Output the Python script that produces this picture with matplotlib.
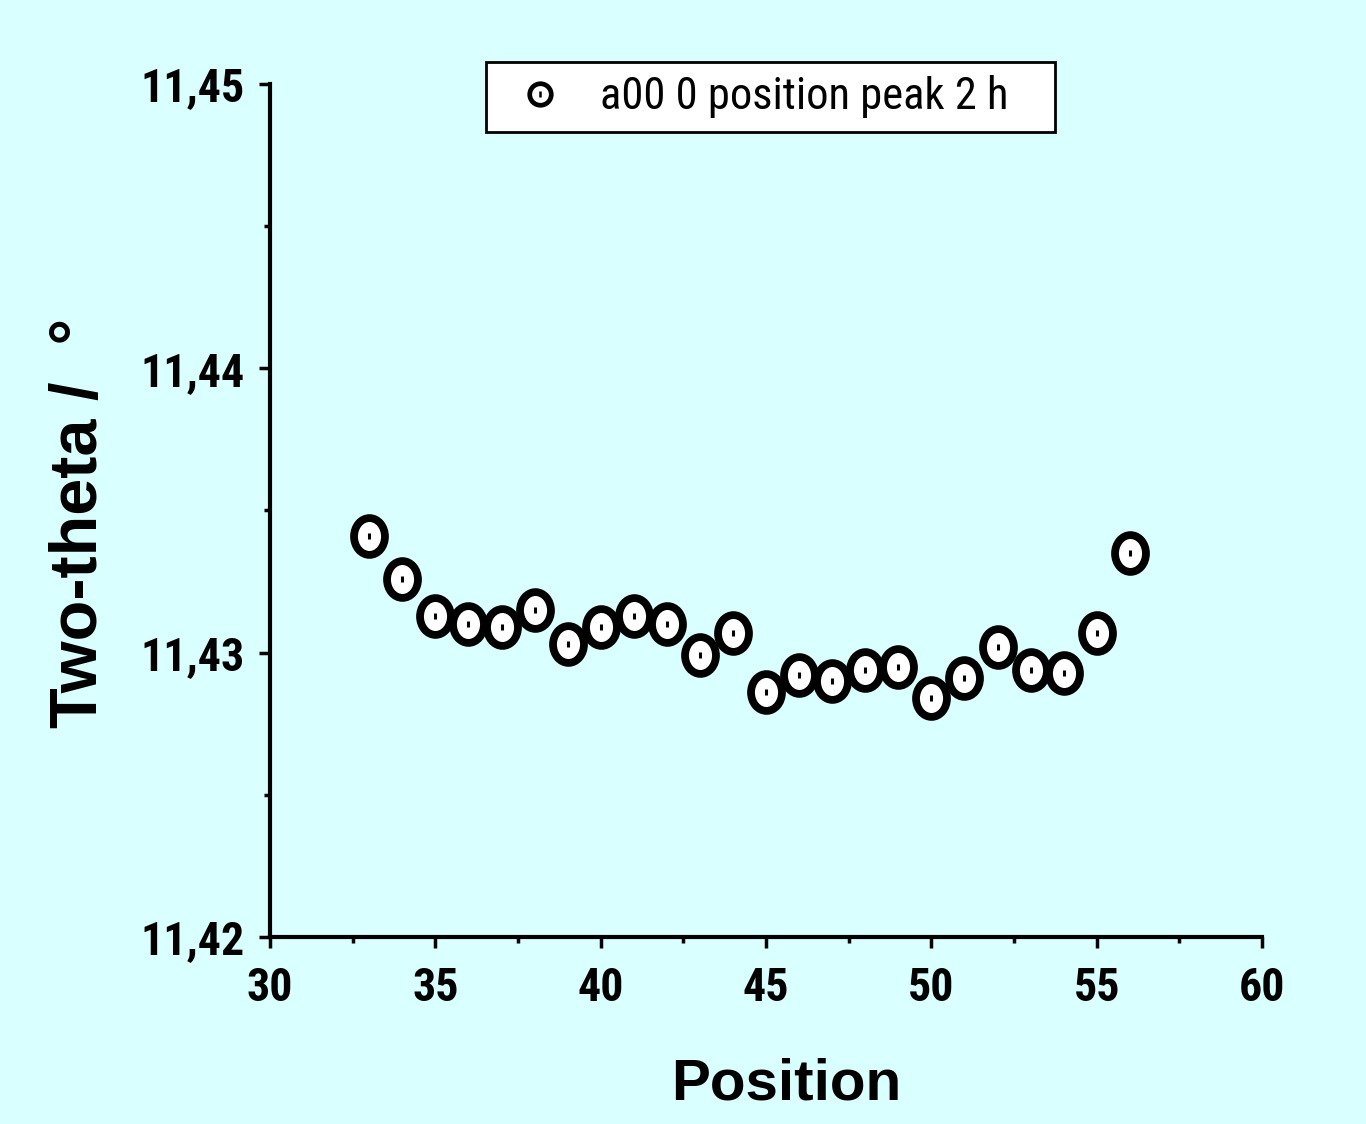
import numpy as np
import matplotlib.pyplot as plt
from matplotlib import font_manager
from matplotlib.path import Path
from matplotlib.patches import Rectangle
from matplotlib.transforms import Affine2D
from matplotlib.ticker import MultipleLocator, FuncFormatter
from matplotlib.lines import Line2D
from matplotlib.legend_handler import HandlerTuple

position = [33, 34, 35, 36, 37, 38, 39, 40, 41, 42, 43, 44,
            45, 46, 47, 48, 49, 50, 51, 52, 53, 54, 55, 56]
two_theta = [11.4341, 11.4326, 11.4313, 11.4310, 11.4309, 11.4315,
             11.4303, 11.4309, 11.4313, 11.4310, 11.4299, 11.4307,
             11.4286, 11.4292, 11.4290, 11.4294, 11.4295, 11.4284,
             11.4291, 11.4302, 11.4294, 11.4293, 11.4307, 11.4335]
series_label = 'a00 0 position peak 2 h'

def pick_font(candidates, weight):
   have = {}
   for f in font_manager.fontManager.ttflist:
      have.setdefault(f.name, set()).add(f.weight)
   for name in candidates:
      if name in have and any(abs(int(w) - weight) <= 100 for w in have[name] if str(w).isdigit()):
         return name
   return 'Liberation Sans'

narrow_list = ['Liberation Sans Narrow', 'Arial Narrow', 'Roboto Condensed',
               'PT Sans Narrow', 'Archivo Narrow', 'Barlow Semi Condensed']
narrow_bold = pick_font(narrow_list, 700)
narrow_reg = pick_font(narrow_list, 400)
wide = 'Liberation Sans'

bg = '#D9FFFF'
fig = plt.figure(figsize=(13.66, 11.24), dpi=100, facecolor=bg)
ax = fig.add_axes([0.1977, 0.1664, 0.7262, 0.7589], facecolor=bg)

# slightly tall ellipse like the original symbol
ellipse = Affine2D().scale(1.0, 1.19).transform_path(Path.unit_circle())

ax.plot(position, two_theta, linestyle='none', marker=ellipse, markersize=26.5,
        markerfacecolor='white', markeredgecolor='black', markeredgewidth=5.6,
        clip_on=False, zorder=3)
ax.plot(position, two_theta, linestyle='none', marker='|', markersize=5,
        markeredgecolor='black', markeredgewidth=2.2, clip_on=False, zorder=4)

ax.set_xlim(30, 60)
ax.set_ylim(11.42, 11.45)
ax.xaxis.set_major_locator(MultipleLocator(5))
ax.xaxis.set_minor_locator(MultipleLocator(2.5))
ax.yaxis.set_major_locator(MultipleLocator(0.01))
ax.yaxis.set_minor_locator(MultipleLocator(0.005))
ax.yaxis.set_major_formatter(FuncFormatter(lambda v, p: f'{v:.2f}'.replace('.', ',')))

for s in ['top', 'right']:
   ax.spines[s].set_visible(False)
for s in ['left', 'bottom']:
   ax.spines[s].set_linewidth(3)

ax.tick_params(which='major', direction='out', length=8, width=2.5)
ax.tick_params(which='minor', direction='out', length=4, width=2.5)
ax.tick_params(axis='y', which='major', pad=10)
ax.tick_params(axis='x', which='major', pad=13)
for lbl in ax.get_xticklabels() + ax.get_yticklabels():
   lbl.set_fontfamily(narrow_bold)
   lbl.set_fontweight('bold')
   lbl.set_fontsize(33)

ax.set_xlabel('Position', fontfamily=wide, fontweight='bold', fontsize=42, labelpad=34)
ax.xaxis.label.set_x(0.52)
ax.set_ylabel('Two-theta /  °', fontfamily=wide, fontweight='bold', fontsize=48)
ax.yaxis.set_label_coords(-0.16, 0.485)

# legend box drawn separately so its width matches the original
ax.add_patch(Rectangle((0.2177, 0.944), 0.5736, 0.082, transform=ax.transAxes,
                       facecolor='white', edgecolor='black', linewidth=2,
                       clip_on=False, zorder=5))
ring = Line2D([], [], linestyle='none', marker='o', markersize=15.5,
              markerfacecolor='white', markeredgecolor='black', markeredgewidth=3.4)
dot = Line2D([], [], linestyle='none', marker='|', markersize=4,
             markeredgecolor='black', markeredgewidth=1.8)
leg = ax.legend([(ring, dot)], [series_label], handler_map={tuple: HandlerTuple(ndivide=1)},
                loc='center left', bbox_to_anchor=(0.2177, 0.985),
                frameon=False, handlelength=1.75, handletextpad=0.46,
                borderpad=0.35, borderaxespad=0,
                prop={'family': narrow_reg, 'size': 32})
leg.set_zorder(6)

plt.savefig('out.png', dpi=100, facecolor=bg)
